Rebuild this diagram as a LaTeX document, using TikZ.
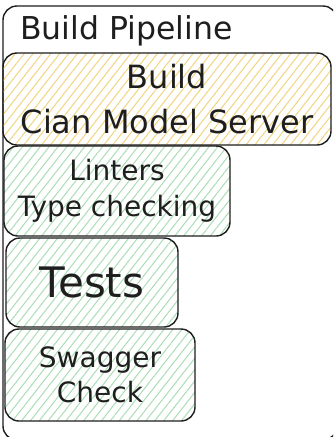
\documentclass[tikz,border=0pt]{standalone}
\usepackage{fontspec}
\setmainfont{DejaVu Sans}
\usetikzlibrary{patterns.meta}
\definecolor{ink}{HTML}{1E1E1E}
\definecolor{hatchyellow}{HTML}{F0D480}
\definecolor{hatchgreen}{HTML}{ACDDB6}
\tikzset{
  stage/.style={draw=ink, line width=1.4pt, rounded corners=14pt, inner sep=0pt,
    align=center, text=ink},
  hatch/.style={pattern={Lines[angle=52, distance=7pt, line width=1pt]}},
  yellowstage/.style={stage, hatch, pattern color=hatchyellow},
  greenstage/.style={stage, hatch, pattern color=hatchgreen},
}
\begin{document}
\begin{tikzpicture}[x=1pt, y=-1pt]
  \clip (0,0) rectangle (333,437);
  \fill[white] (0,0) rectangle (333,437);
  % outer container (runs past the right and bottom edges)
  \draw[ink, line width=1.4pt, rounded corners=14pt] (3,6) rectangle (337,440);
  \node[anchor=base west, text=ink, font=\fontsize{31.5}{36}\selectfont, inner sep=0pt]
    (title) at (20,39) {Build Pipeline};
  % stages
  \node[yellowstage, minimum width=328pt, minimum height=92pt,
    font=\fontsize{32}{45}\selectfont] (build) at (167,99)
    {Build\\Cian Model Server};
  \node[greenstage, minimum width=226pt, minimum height=90pt,
    font=\fontsize{28}{36}\selectfont] (lint) at (117,191)
    {Linters\\Type checking};
  \node[greenstage, minimum width=172pt, minimum height=89pt,
    font=\fontsize{42}{48}\selectfont] (tests) at (92,282.5)
    {Tests};
  \node[greenstage, minimum width=190pt, minimum height=92pt,
    font=\fontsize{28}{35}\selectfont] (swagger) at (100,375)
    {Swagger\\Check};
\end{tikzpicture}
\end{document}
